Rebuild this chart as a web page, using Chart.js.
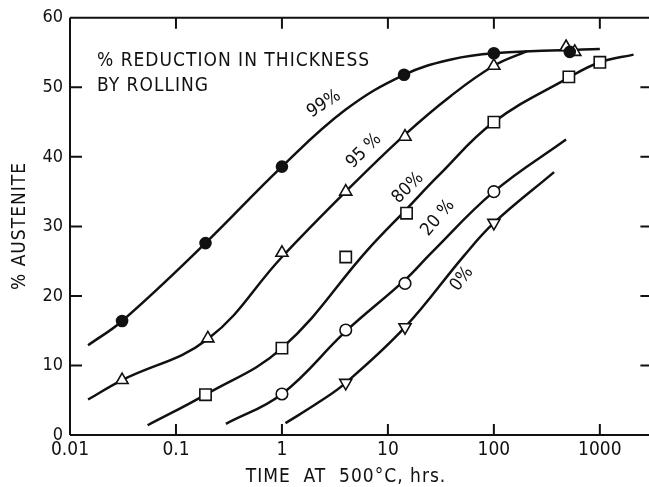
<!DOCTYPE html>
<html lang="en">
<head>
    <meta charset="UTF-8">
    <title>% Austenite vs time at 500°C</title>
    <script src="https://cdn.jsdelivr.net/npm/chart.js"></script>
    <style>
        body { margin: 0; background: #fff; overflow: hidden; }
        #wrap { width: 660px; height: 487px; }
    </style>
</head>
<body>
    <div id="wrap"><canvas id="austeniteChart" width="660" height="487"></canvas></div>

    <script>
        // Axis ticks
        const timeTicks = [0.01, 0.1, 1, 10, 100, 1000];
        const timeLabels = ['0.01', '0.1', '1', '10', '100', '1000'];
        const austTicks = [0, 10, 20, 30, 40, 50, 60];

        // Measured points (time in hrs, % austenite)
        const t99 = [0.031, 0.19, 1, 14.2, 100, 520];
        const a99 = [16.4, 27.6, 38.6, 51.8, 54.9, 55.1];
        const t95 = [0.031, 0.2, 1, 4, 14.5, 100, 480, 580];
        const a95 = [7.9, 13.9, 26.2, 35.0, 42.9, 53.1, 55.8, 55.1];
        const t80 = [0.19, 1, 4, 15, 100, 510, 1000];
        const a80 = [5.8, 12.5, 25.6, 31.9, 45.0, 51.5, 53.6];
        const t20 = [1, 4, 14.5, 100];
        const a20 = [5.9, 15.1, 21.8, 35.0];
        const t0 = [4, 14.5, 100];
        const a0 = [7.5, 15.5, 30.5];

        // Hand-drawn curves
        const c99t = [0.0148, 0.031, 0.19, 1, 4, 14.2, 39.5, 100, 1000];
        const c99a = [12.9, 16.4, 27.6, 38.6, 46.8, 51.8, 54.0, 54.9, 55.5];
        const c95t = [0.0148, 0.031, 0.2, 1, 4, 14.5, 39.5, 100, 206];
        const c95a = [5.1, 7.9, 13.8, 25.6, 35.0, 43.2, 48.8, 53.1, 55.2];
        const c80t = [0.054, 0.19, 1, 6.5, 15, 30, 100, 510, 1000, 2080];
        const c80a = [1.4, 5.8, 12.5, 26.7, 32.5, 37.3, 45.0, 51.4, 53.6, 54.7];
        const c20t = [0.296, 1, 4, 14.5, 25.7, 100, 480];
        const c20a = [1.6, 5.9, 14.9, 22.3, 26.2, 35.0, 42.5];
        const c0t = [1.08, 2.22, 4, 14.5, 52.4, 100, 370];
        const c0a = [1.7, 4.7, 7.5, 15.5, 25.8, 30.5, 37.8];

        const FONT = '"DejaVu Sans Condensed", "Liberation Sans Narrow", "Liberation Sans", sans-serif';
        const INK = '#111';

        const pts = (xs, ys) => xs.map((x, i) => ({ x: x, y: ys[i] }));

        function curve(xs, ys) {
            return {
                type: 'line',
                data: pts(xs, ys),
                borderColor: INK,
                borderWidth: 2.5,
                pointRadius: 0,
                tension: 0.4,
                fill: false,
                order: 2
            };
        }

        function marks(xs, ys, style, filled, radius, rotation) {
            return {
                type: 'scatter',
                data: pts(xs, ys),
                showLine: false,
                pointStyle: style,
                pointRadius: radius,
                pointRotation: rotation || 0,
                pointBackgroundColor: filled ? INK : '#fff',
                pointBorderColor: INK,
                pointBorderWidth: 1.6,
                order: 1
            };
        }

        // frame, inward ticks and lettering
        const decorations = {
            id: 'decorations',
            afterDraw(chart) {
                const ctx = chart.ctx;
                const xs = chart.scales.x, ys = chart.scales.y;
                const { left, right, top, bottom } = chart.chartArea;
                ctx.save();
                ctx.strokeStyle = INK;
                ctx.lineWidth = 2;
                ctx.beginPath();
                ctx.moveTo(left, top); ctx.lineTo(left, bottom);
                ctx.moveTo(left, bottom); ctx.lineTo(right, bottom);
                ctx.moveTo(left, top); ctx.lineTo(right, top);
                ctx.moveTo(right, top); ctx.lineTo(right, bottom);
                timeTicks.slice(1).forEach(v => {
                    const px = xs.getPixelForValue(v);
                    ctx.moveTo(px, bottom); ctx.lineTo(px, bottom - 11);
                    ctx.moveTo(px, top); ctx.lineTo(px, top + 11);
                });
                austTicks.slice(1, -1).forEach(v => {
                    const py = ys.getPixelForValue(v);
                    ctx.moveTo(left, py); ctx.lineTo(left + 12, py);
                    ctx.moveTo(right, py); ctx.lineTo(right - 10, py);
                });
                ctx.stroke();

                ctx.fillStyle = INK;
                ctx.textBaseline = 'alphabetic';
                ctx.font = '19px ' + FONT;
                ctx.letterSpacing = '1px';
                ctx.textAlign = 'left';
                ctx.fillText('% REDUCTION IN THICKNESS', 97, 66);
                ctx.fillText('BY ROLLING', 97, 91);

                ctx.textAlign = 'center';
                ctx.fillText('TIME  AT  500°C, hrs.', 346, 482);

                ctx.save();
                ctx.translate(25, 226);
                ctx.rotate(-Math.PI / 2);
                ctx.fillText('% AUSTENITE', 0, 0);
                ctx.restore();

                ctx.font = '18px ' + FONT;
                ctx.letterSpacing = '0px';
                ctx.textBaseline = 'middle';
                const tags = [
                    ['99%', 324, 104, -33],
                    ['95 %', 364, 151, -45],
                    ['80%', 408, 188, -45],
                    ['20 %', 438, 218, -50],
                    ['0%', 462, 279, -52]
                ];
                tags.forEach(([txt, x, y, deg]) => {
                    ctx.save();
                    ctx.translate(x, y);
                    ctx.rotate(deg * Math.PI / 180);
                    ctx.fillText(txt, 0, 0);
                    ctx.restore();
                });
                ctx.restore();
            }
        };

        new Chart(document.getElementById('austeniteChart'), {
            type: 'scatter',
            data: {
                datasets: [
                    curve(c99t, c99a), curve(c95t, c95a), curve(c80t, c80a),
                    curve(c20t, c20a), curve(c0t, c0a),
                    marks(t99, a99, 'circle', true, 5.5),
                    marks(t95, a95, 'triangle', false, 7),
                    marks(t80, a80, 'rect', false, 8),
                    marks(t20, a20, 'circle', false, 5.8),
                    marks(t0, a0, 'triangle', false, 7, 180)
                ]
            },
            options: {
                responsive: false,
                animation: false,
                devicePixelRatio: 1,
                layout: { padding: { top: 15, right: 6, left: 0, bottom: 0 } },
                plugins: {
                    legend: { display: false },
                    tooltip: { enabled: false }
                },
                scales: {
                    x: {
                        type: 'logarithmic',
                        min: 0.01,
                        max: 3000,
                        grid: { display: false, drawTicks: false },
                        border: { display: false },
                        afterBuildTicks: s => { s.ticks = timeTicks.map(v => ({ value: v })); },
                        afterFit: s => { s.height = 52; },
                        ticks: {
                            autoSkip: false,
                            maxRotation: 0,
                            padding: 4,
                            color: INK,
                            font: { family: FONT, size: 19 },
                            callback: v => {
                                const i = timeTicks.indexOf(v);
                                return i >= 0 ? timeLabels[i] : '';
                            }
                        }
                    },
                    y: {
                        min: 0,
                        max: 60,
                        grid: { display: false, drawTicks: false },
                        border: { display: false },
                        afterBuildTicks: s => { s.ticks = austTicks.map(v => ({ value: v })); },
                        afterFit: s => { s.width = 70; },
                        ticks: {
                            padding: 7,
                            color: INK,
                            font: { family: FONT, size: 18 }
                        }
                    }
                }
            },
            plugins: [decorations]
        });
    </script>
</body>
</html>
